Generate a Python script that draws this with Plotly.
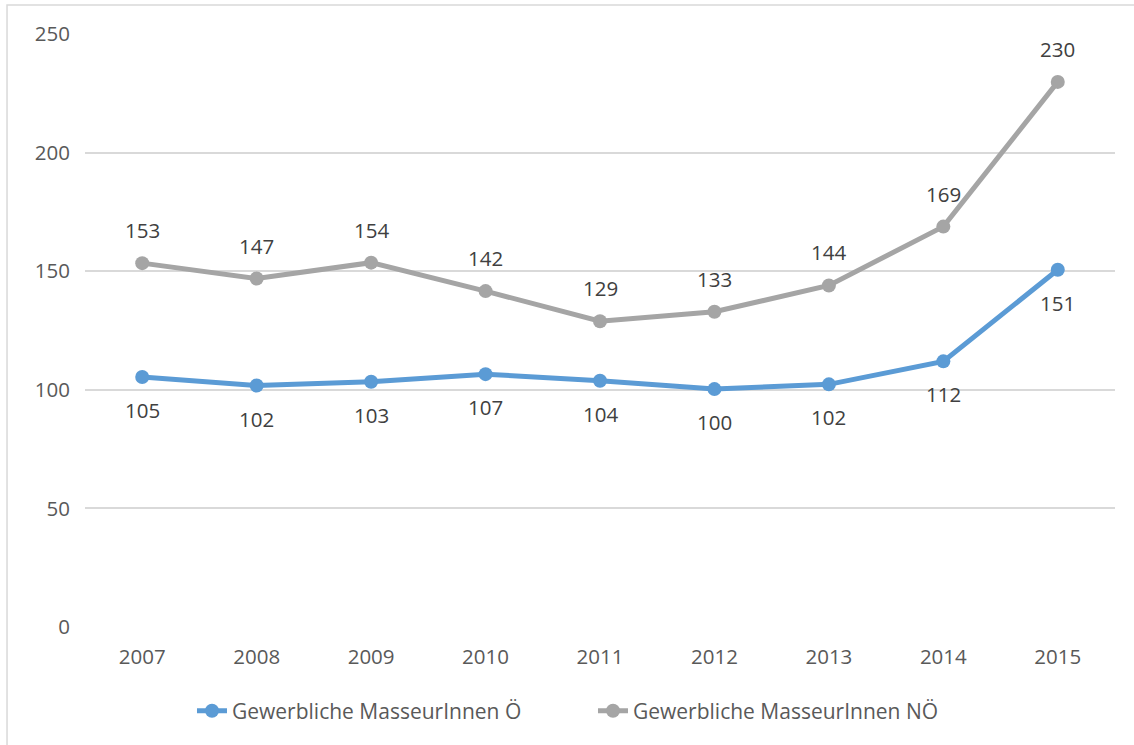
import plotly.graph_objects as go

years = ["2007", "2008", "2009", "2010", "2011", "2012", "2013", "2014", "2015"]
oe = [105.4, 101.8, 103.4, 106.6, 103.8, 100.3, 102.3, 112.0, 150.6]
noe = [153.4, 146.9, 153.6, 141.6, 128.9, 132.9, 144.0, 168.8, 229.8]
oe_labels = ["105", "102", "103", "107", "104", "100", "102", "112", "151"]
noe_labels = ["153", "147", "154", "142", "129", "133", "144", "169", "230"]
name_oe = "Gewerbliche MasseurInnen Ö"
name_noe = "Gewerbliche MasseurInnen NÖ"

BLUE = "#5B9BD5"
GRAY = "#A5A5A5"
FONT = "Open Sans, Liberation Sans, sans-serif"
FS = 20.5

fig = go.Figure()
fig.add_trace(go.Scatter(x=years, y=oe, name=name_oe, mode="lines+markers",
                         line=dict(color=BLUE, width=5), marker=dict(size=14, color=BLUE)))
fig.add_trace(go.Scatter(x=years, y=noe, name=name_noe, mode="lines+markers",
                         line=dict(color=GRAY, width=5), marker=dict(size=14, color=GRAY)))

annotations = []
for i, (y, t) in enumerate(zip(oe, oe_labels)):
    annotations.append(dict(x=i, y=y, xref="x", yref="y", text=t, showarrow=False, yshift=-33,
                            font=dict(size=FS, color="#404040", family=FONT)))
for i, (y, t) in enumerate(zip(noe, noe_labels)):
    annotations.append(dict(x=i, y=y, xref="x", yref="y", text=t, showarrow=False, yshift=33,
                            font=dict(size=FS, color="#404040", family=FONT)))

fig.update_layout(
    width=1134, height=745,
    margin=dict(l=85, r=19, t=34, b=118),
    paper_bgcolor="white", plot_bgcolor="white",
    font=dict(family=FONT, size=FS, color="#595959"),
    xaxis=dict(type="category", range=[-0.5, 8.5], showgrid=False, zeroline=False,
               showline=False, ticks="", ticklabelstandoff=15,
               tickfont=dict(size=FS, color="#595959")),
    yaxis=dict(range=[0, 250], tickvals=[0, 50, 100, 150, 200, 250], showgrid=True,
               gridcolor="#D9D9D9", gridwidth=1.5, zeroline=False, showline=False,
               ticks="", ticklabelstandoff=14, tickfont=dict(size=FS, color="#595959")),
    legend=dict(orientation="h", x=0.4932, xanchor="center", y=-0.1417, yanchor="middle",
                font=dict(size=21, color="#595959"), entrywidth=356, entrywidthmode="pixels",
                traceorder="normal"),
    annotations=annotations,
    shapes=[dict(type="rect", xref="paper", yref="paper", x0=-0.0757, x1=1.1,
                 y0=-0.3, y1=1.0489, line=dict(color="#D9D9D9", width=1.5),
                 fillcolor="rgba(0,0,0,0)", layer="below")],
)

fig.write_html("out.html", config={"displayModeBar": False},
               post_script="document.body.style.margin='0';")
